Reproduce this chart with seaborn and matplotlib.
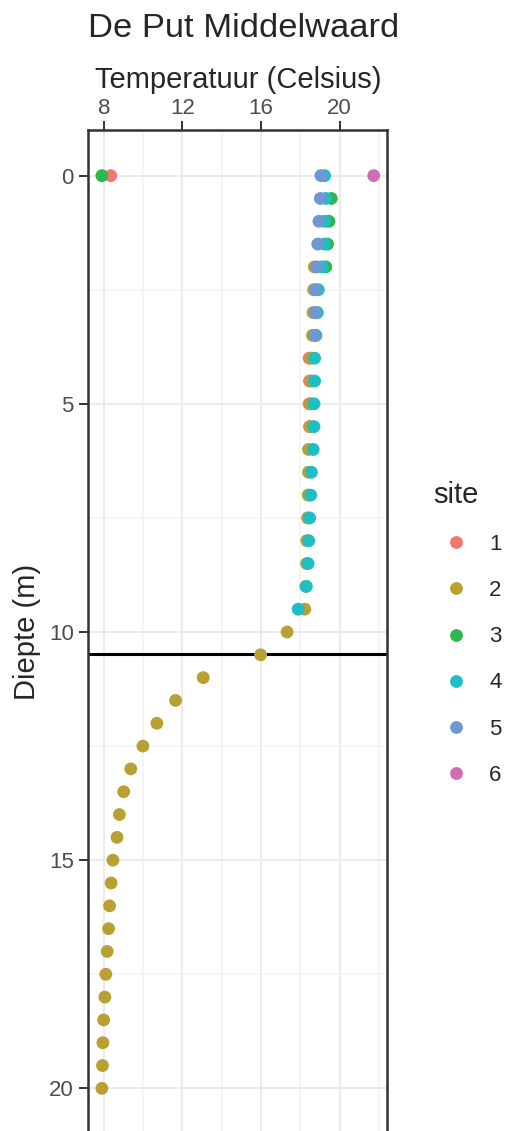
import pandas as pd
import seaborn as sns
import matplotlib.pyplot as plt
from matplotlib.ticker import MultipleLocator

# temperature profiles per site (depth in m, temperature in Celsius)
site1_depth = [0, 4.0, 4.5, 5.0, 5.5]
site1_temp = [8.35, 18.45, 18.47, 18.45, 18.47]

site2_depth = [2.0, 2.5, 3.0, 3.5, 4.0, 4.5, 5.0, 5.5, 6.0, 6.5, 7.0, 7.5, 8.0, 8.5,
               9.0, 9.5, 10.0, 10.5, 11.0, 11.5, 12.0, 12.5, 13.0, 13.5, 14.0, 14.5,
               15.0, 15.5, 16.0, 16.5, 17.0, 17.5, 18.0, 18.5, 19.0, 19.5, 20.0]
site2_temp = [18.72, 18.68, 18.65, 18.62, 18.55, 18.55, 18.52, 18.52, 18.42, 18.42,
              18.40, 18.37, 18.33, 18.32, 18.28, 18.23, 17.33, 15.98, 13.06, 11.65,
              10.70, 9.99, 9.37, 9.01, 8.79, 8.67, 8.46, 8.37, 8.29, 8.24, 8.17, 8.10,
              8.05, 7.99, 7.95, 7.93, 7.90]

site3_depth = [0, 0.5, 1.0, 1.5, 2.0]
site3_temp = [7.90, 19.58, 19.46, 19.39, 19.30]

site4_depth = [0, 0.5, 1.0, 1.5, 2.0, 2.5, 3.0, 3.5, 4.0, 4.5, 5.0, 5.5, 6.0, 6.5,
               7.0, 7.5, 8.0, 8.5, 9.0, 9.5]
site4_temp = [19.24, 19.30, 19.24, 19.22, 19.12, 18.92, 18.87, 18.80, 18.73, 18.73,
              18.70, 18.70, 18.66, 18.57, 18.53, 18.48, 18.43, 18.40, 18.31, 17.89]

site5_depth = [0, 0.5, 1.0, 1.5, 2.0, 2.5, 3.0, 3.5]
site5_temp = [19.05, 19.02, 18.95, 18.89, 18.85, 18.78, 18.77, 18.75]

site6_depth = [0]
site6_temp = [21.74]

thermocline = 10.48

site_colors = ['#F5766E', '#B8A033', '#2DB84C', '#1DBFC4', '#6F97D6', '#D06CB4']

frames = []
for i, (d, t) in enumerate([(site1_depth, site1_temp), (site2_depth, site2_temp),
                            (site3_depth, site3_temp), (site4_depth, site4_temp),
                            (site5_depth, site5_temp), (site6_depth, site6_temp)]):
    frames.append(pd.DataFrame({'diepte': d, 'temp': t, 'site': str(i + 1)}))
data = pd.concat(frames, ignore_index=True)

sns.set_style('white')
plt.rcParams['font.family'] = ['Liberation Sans', 'DejaVu Sans']

W, H = 509, 1131
fig = plt.figure(figsize=(W / 100, H / 100), dpi=100)
ax = fig.add_axes([88.3 / W, 1 - 1134 / H, 299 / W, 1004 / H])

ax.axhline(thermocline, color='black', lw=2.2, zorder=1)
sns.scatterplot(data=data, x='temp', y='diepte', hue='site',
                palette=dict(zip(['1', '2', '3', '4', '5', '6'], site_colors)),
                s=85, linewidth=0, alpha=1, ax=ax, zorder=3)

# ggplot-like 5% expansion
tmin, tmax = data['temp'].min(), data['temp'].max()
pad = (tmax - tmin) * 0.05
ax.set_xlim(tmin - pad, tmax + pad)
ax.set_ylim(21, -1)

ax.xaxis.set_major_locator(MultipleLocator(4))
ax.xaxis.set_minor_locator(MultipleLocator(2))
ax.yaxis.set_major_locator(MultipleLocator(5))
ax.yaxis.set_minor_locator(MultipleLocator(2.5))
ax.xaxis.tick_top()
ax.xaxis.set_label_position('top')

ax.grid(which='major', color='#EBEBEB', lw=1.4, zorder=0)
ax.grid(which='minor', color='#F2F2F2', lw=1.1, zorder=0)
ax.set_axisbelow(True)
ax.tick_params(which='major', length=6.5, width=1.4, color='#333333',
               labelsize=16, labelcolor='#4D4D4D', pad=4, left=True, top=True)
ax.tick_params(axis='x', which='major', pad=1.5)
ax.tick_params(which='minor', length=0)
for sp in ax.spines.values():
    sp.set_color('#333333')
    sp.set_linewidth(1.8)

ax.set_xlabel('Temperatuur (Celsius)', fontsize=21, labelpad=7)
ax.set_ylabel('Diepte (m)', fontsize=21, labelpad=6)

fig.text(88.3 / W, 1 - 37.3 / H, 'De Put Middelwaard', fontsize=24.8,
         ha='left', va='baseline')

sns.move_legend(ax, loc='upper left', bbox_to_anchor=(433.7 / W, 1 - 481 / H),
                bbox_transform=fig.transFigure, frameon=False, title='site',
                fontsize=16, title_fontsize=21, alignment='left',
                borderpad=0, borderaxespad=0, labelspacing=1.13,
                handletextpad=0.5)

fig.savefig('out.png', dpi=100)
